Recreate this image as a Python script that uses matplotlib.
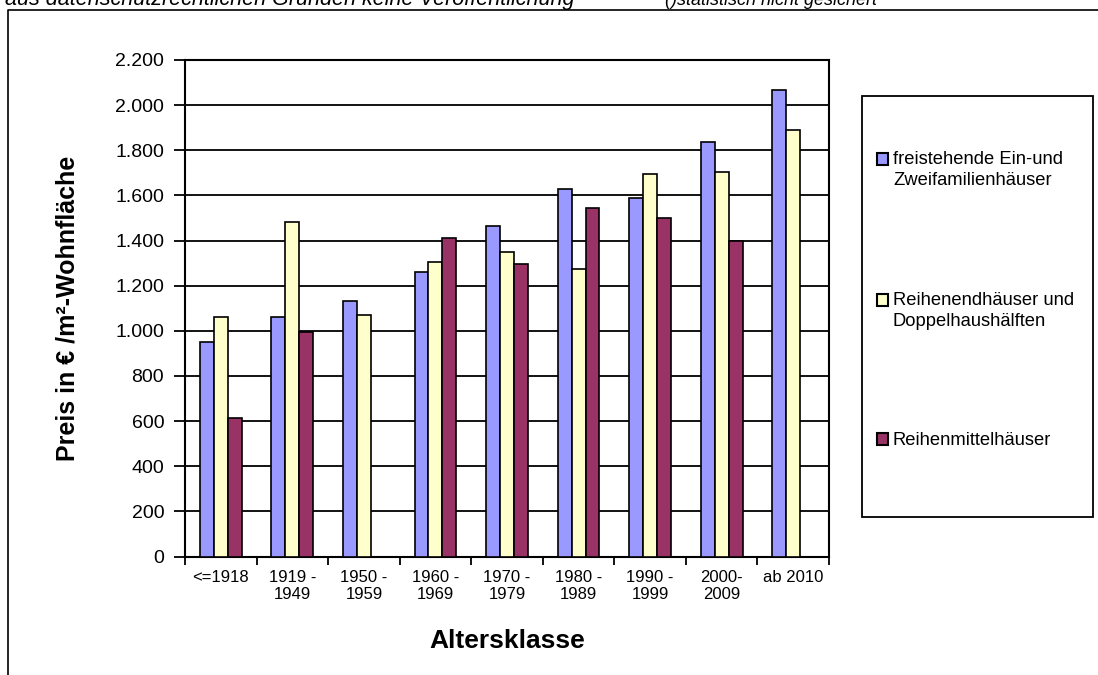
import numpy as np
import matplotlib.pyplot as plt
from matplotlib.patches import Rectangle
from matplotlib.lines import Line2D

plt.rcParams['font.family'] = ['Liberation Sans', 'DejaVu Sans']

# Kaufpreise je Altersklasse (EUR pro m² Wohnfläche)
altersklassen = ["<=1918", "1919 -\n1949", "1950 -\n1959", "1960 -\n1969", "1970 -\n1979",
                 "1980 -\n1989", "1990 -\n1999", "2000-\n2009", "ab 2010"]
freistehend = [950, 1060, 1130, 1260, 1465, 1630, 1590, 1835, 2065]
reihenend = [1060, 1480, 1070, 1305, 1350, 1275, 1695, 1705, 1890]
reihenmitte = [615, 995, np.nan, 1410, 1295, 1545, 1500, 1400, np.nan]

serien = ["freistehende Ein-und\nZweifamilienhäuser",
          "Reihenendhäuser und\nDoppelhaushälften",
          "Reihenmittelhäuser"]
farben = ["#9999FF", "#FFFFCC", "#993366"]

y_ticks = [0, 200, 400, 600, 800, 1000, 1200, 1400, 1600, 1800, 2000, 2200]
y_labels = ["0", "200", "400", "600", "800", "1.000", "1.200", "1.400",
            "1.600", "1.800", "2.000", "2.200"]

W, H = 1098, 675
fig = plt.figure(figsize=(W / 100, H / 100), dpi=100)
ax = fig.add_axes([185 / W, 1 - 556.5 / H, (829 - 185) / W, (556.5 - 60) / H])

x = np.arange(len(altersklassen))
breite = 0.195
for i, (werte, farbe, name) in enumerate(zip([freistehend, reihenend, reihenmitte], farben, serien)):
    ax.bar(x + (i - 1) * breite, werte, width=breite, color=farbe,
           edgecolor="black", linewidth=1.2, label=name, zorder=3)

ax.set_xlim(-0.5, len(altersklassen) - 0.5)
ax.set_ylim(0, 2200)
ax.set_yticks(y_ticks)
ax.set_yticklabels(y_labels, fontsize=14)
ax.tick_params(axis="y", length=8, width=1.3, direction="out", pad=7)
ax.yaxis.grid(True, color="black", linewidth=1.3, zorder=0)
ax.set_axisbelow(True)

ax.set_xticks(x)
ax.set_xticklabels(altersklassen, fontsize=12, linespacing=1.1, va="top")
ax.tick_params(axis="x", which="major", length=0, pad=10)
ax.set_xticks(np.arange(-0.5, len(altersklassen)), minor=True)
ax.tick_params(axis="x", which="minor", length=6, width=1.3, direction="out")

for s in ax.spines.values():
    s.set_linewidth(1.5)
    s.set_color("black")

ax.set_ylabel("Preis in € /m²-Wohnfläche", fontsize=18, fontweight="bold", labelpad=26)
ax.set_xlabel("Altersklasse", fontsize=19, fontweight="bold", labelpad=20)

# Rahmen der Legende
fig.add_artist(Rectangle((862 / W, 1 - 517 / H), (1093 - 862) / W, (517 - 96) / H,
                         transform=fig.transFigure, facecolor="white",
                         edgecolor="black", linewidth=1.3))
leg = fig.legend(loc="upper left", bbox_to_anchor=(870 / W, 1 - 144 / H),
                 frameon=False, fontsize=13.2, labelspacing=5.6,
                 handlelength=0.6, handleheight=0.6, handletextpad=0.25,
                 borderaxespad=0)
for t in leg.get_texts():
    t.set_linespacing(1.3)
for t, p in zip(leg.get_texts(), leg.get_patches()):
    p.set_linewidth(1.5)
    # Kästchen bei zweizeiligen Einträgen auf die erste Zeile setzen
    if "\n" in t.get_text():
        p.set_y(p.get_y() + 8)

# Außenrahmen der Grafik
fig.add_artist(Line2D([8 / W, 8 / W, 1.0], [0.0, 1 - 10 / H, 1 - 10 / H],
                      transform=fig.transFigure, color="black", linewidth=1.2))

fig.text(5 / W, 1 - 5 / H, "aus datenschutzrechtlichen Gründen keine Veröffentlichung",
         fontsize=15.5, style="italic", va="baseline", ha="left")
fig.text(665 / W, 1 - 5 / H, "()statistisch nicht gesichert",
         fontsize=13, style="italic", va="baseline", ha="left")

fig.savefig("out.png", dpi=100)
